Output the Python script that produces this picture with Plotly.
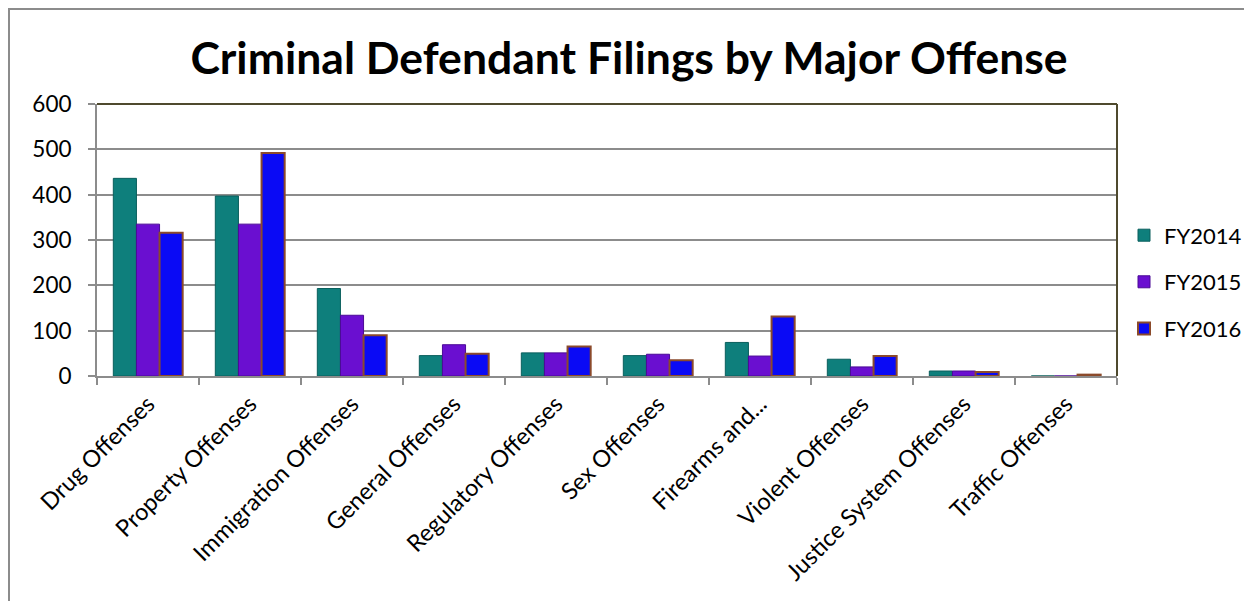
import plotly.graph_objects as go

categories = ["Drug Offenses", "Property Offenses", "Immigration Offenses",
              "General Offenses", "Regulatory Offenses", "Sex Offenses",
              "Firearms and...", "Violent Offenses", "Justice System Offenses",
              "Traffic Offenses"]
fy2014 = [436, 397, 193, 45, 51, 45, 74, 37, 11, 0]
fy2015 = [335, 335, 134, 69, 51, 48, 44, 20, 11, 0]
fy2016 = [316, 492, 90, 49, 65, 35, 131, 44, 9, 3]

series = [
    ("FY2014", fy2014, "#0E7F7C", "#0A5F5D", 1),
    ("FY2015", fy2015, "#6A0FD0", "#4B0A96", 1),
    ("FY2016", fy2016, "#0A0AF5", "#8B4A2B", 2),
]

FONT = "Lato, 'Open Sans', sans-serif"

fig = go.Figure()
for name, vals, col, edge, lw in series:
    fig.add_trace(go.Bar(x=categories, y=vals, name=name, marker_color=col,
                         legendgroup=name,
                         marker_line=dict(color=edge, width=lw)))

# the page body adds an 8px offset, so everything is placed 8px up/left
W, H = 1252, 601
L, R, T, B = 89, 143, 96, 233
pw, ph = W - L - R, H - T - B

fig.update_layout(
    width=W, height=H,
    margin=dict(l=L, r=R, t=T, b=B),
    plot_bgcolor="white", paper_bgcolor="white",
    barmode="group", bargap=0.32, bargroupgap=0,
    font=dict(family=FONT, size=22, color="black"),
    title=dict(text="<b>Criminal Defendant Filings by Major Offense</b>",
               x=(629 - 8 - L) / pw, xref="paper", xanchor="center",
               y=1 - 50 / H, yanchor="middle",
               font=dict(family=FONT, size=44.5, color="black")),
    legend=dict(x=(1116 - L) / pw, xanchor="left", y=0.346, yanchor="middle",
                font=dict(size=22), tracegroupgap=15,
                bgcolor="rgba(0,0,0,0)"),
    showlegend=True,
)
fig.update_xaxes(type="category", tickangle=-45, showline=True, linecolor="#8c8c8c",
                 linewidth=2, ticks="outside", tickson="boundaries", ticklen=7,
                 tickcolor="#8c8c8c", tickwidth=2, showgrid=False,
                 ticklabelstandoff=3, tickfont=dict(size=23.5))
fig.update_yaxes(range=[0, 600], dtick=100, showline=True, linecolor="#8c8c8c",
                 linewidth=2, ticks="outside", ticklen=7, tickcolor="#8c8c8c",
                 tickwidth=2, showgrid=True, gridcolor="#8c8c8c", gridwidth=2,
                 zeroline=False, ticklabelstandoff=12, tickfont=dict(size=22.5))

# dark top and right edges of the plot area
fig.add_shape(type="line", xref="paper", yref="paper", x0=0, x1=1, y0=1, y1=1,
              line=dict(color="#4f4a2e", width=2))
fig.add_shape(type="line", xref="paper", yref="paper", x0=1, x1=1, y0=0, y1=1,
              line=dict(color="#4f4a2e", width=2))
# chart border
fig.add_shape(type="rect", xref="paper", yref="paper",
              x0=(1 - L) / pw, x1=(1242 - L) / pw,
              y0=(H - B - 620) / ph, y1=(H - B - 1) / ph,
              line=dict(color="#8c8c8c", width=2))

fig.write_html("out.html")
